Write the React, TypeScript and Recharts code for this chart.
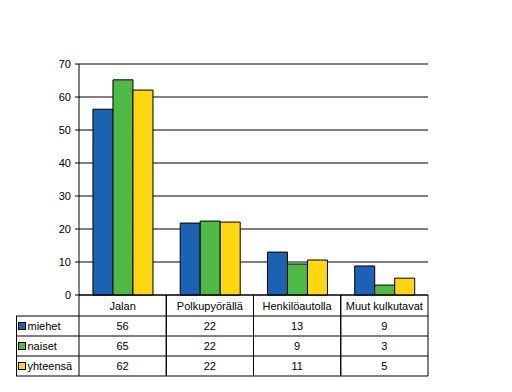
import { BarChart, Bar, XAxis, YAxis, CartesianGrid, Legend, ReferenceLine } from "recharts"

// categories and series (bar heights, table shows rounded values)
const categories = ["Jalan", "Polkupyörällä", "Henkilöautolla", "Muut kulkutavat"]
const miehet = [56.3, 21.8, 13.0, 8.8]
const naiset = [65.2, 22.4, 9.4, 3.0]
const yhteensa = [62.1, 22.1, 10.6, 5.1]
const tableMiehet = ["56", "22", "13", "9"]
const tableNaiset = ["65", "22", "9", "3"]
const tableYhteensa = ["62", "22", "11", "5"]
const yTicks = [0, 10, 20, 30, 40, 50, 60, 70]

const series = [
  { key: "miehet", name: "miehet", color: "#1b62b3", labels: tableMiehet },
  { key: "naiset", name: "naiset", color: "#4fb946", labels: tableNaiset },
  { key: "yhteensa", name: "yhteensä", color: "#ffd70f", labels: tableYhteensa },
]

const data = categories.map((c, i) => ({
  name: c,
  miehet: miehet[i],
  naiset: naiset[i],
  yhteensa: yhteensa[i],
}))

const W = 512
const H = 392
const LEFT = 79
const RIGHT = 84
const TOP = 64
const BOTTOM = 97
const TABLE_LEFT = 16
const HEADER_H = 21
const ROW_H = 20
const band = (W - LEFT - RIGHT) / categories.length
const font = "Arial, 'Liberation Sans', sans-serif"

// one column of the data table under each category
const TableTick = (props: any) => {
  const { x, payload, index } = props
  const top = H - BOTTOM
  const x0 = x - band / 2
  const x1 = x + band / 2
  const bottom = top + HEADER_H + ROW_H * series.length
  return (
    <g>
      <line x1={x0} y1={top} x2={x0} y2={bottom} stroke="#000" />
      <line x1={x1} y1={top} x2={x1} y2={bottom} stroke="#000" />
      {series.map((s, r) => (
        <line key={s.key} x1={index === 0 ? TABLE_LEFT : x0} x2={x1}
          y1={top + HEADER_H + ROW_H * r} y2={top + HEADER_H + ROW_H * r} stroke="#000" />
      ))}
      <line x1={index === 0 ? TABLE_LEFT : x0} x2={x1} y1={bottom} y2={bottom} stroke="#000" />
      <text x={x} y={top + 15} textAnchor="middle" fontSize={11} fontFamily={font} fill="#000">
        {payload.value}
      </text>
      {series.map((s, r) => (
        <text key={s.key} x={x} y={top + HEADER_H + ROW_H * r + 14} textAnchor="middle"
          fontSize={11} fontFamily={font} fill="#000">
          {s.labels[index]}
        </text>
      ))}
    </g>
  )
}

// row labels of the table (legend keys)
const TableLegend = (props: any) => {
  const { payload } = props
  return (
    <svg width={LEFT - TABLE_LEFT + 1} height={ROW_H * series.length + 1} style={{ display: "block" }}>
      <line x1={0.5} y1={0} x2={0.5} y2={ROW_H * series.length} stroke="#000" />
      {(payload || []).map((p: any, r: number) => (
        <g key={p.value}>
          <rect x={2.5} y={ROW_H * r + 6.5} width={7} height={7} fill={p.color} stroke="#000" />
          <text x={11.5} y={ROW_H * r + 14} fontSize={11} fontFamily={font} fill="#000">
            {p.value}
          </text>
        </g>
      ))}
    </svg>
  )
}

export default function App() {
  return (
    <div style={{ position: "absolute", left: 0, top: 0, width: W, height: H, background: "#fff" }}>
      <BarChart width={W} height={H} data={data} barGap={0} barCategoryGap="16%"
        margin={{ top: TOP, right: RIGHT, left: 0, bottom: 0 }}>
        <CartesianGrid vertical={false} stroke="#000" />
        <XAxis dataKey="name" height={BOTTOM} tickLine={false} axisLine={{ stroke: "#000" }}
          tick={<TableTick />} interval={0} />
        <YAxis domain={[0, 70]} ticks={yTicks} width={LEFT} tickSize={4} tickMargin={4}
          axisLine={{ stroke: "#000" }} tickLine={{ stroke: "#000" }}
          tick={{ fontSize: 11, fontFamily: font, fill: "#000" }} />
        <YAxis yAxisId="r" orientation="right" width={0} domain={[0, 70]} tick={false}
          tickLine={false} axisLine={{ stroke: "#808080" }} />
        <ReferenceLine y={70} stroke="#808080" />
        <Legend content={<TableLegend />} layout="horizontal" verticalAlign="middle" align="center"
          wrapperStyle={{ position: "absolute", left: TABLE_LEFT - 0.5, top: H - BOTTOM + HEADER_H, width: "auto" }} />
        {series.map((s) => (
          <Bar key={s.key} dataKey={s.key} name={s.name} fill={s.color} stroke="#000"
            strokeWidth={1} isAnimationActive={false} />
        ))}
      </BarChart>
    </div>
  )
}
